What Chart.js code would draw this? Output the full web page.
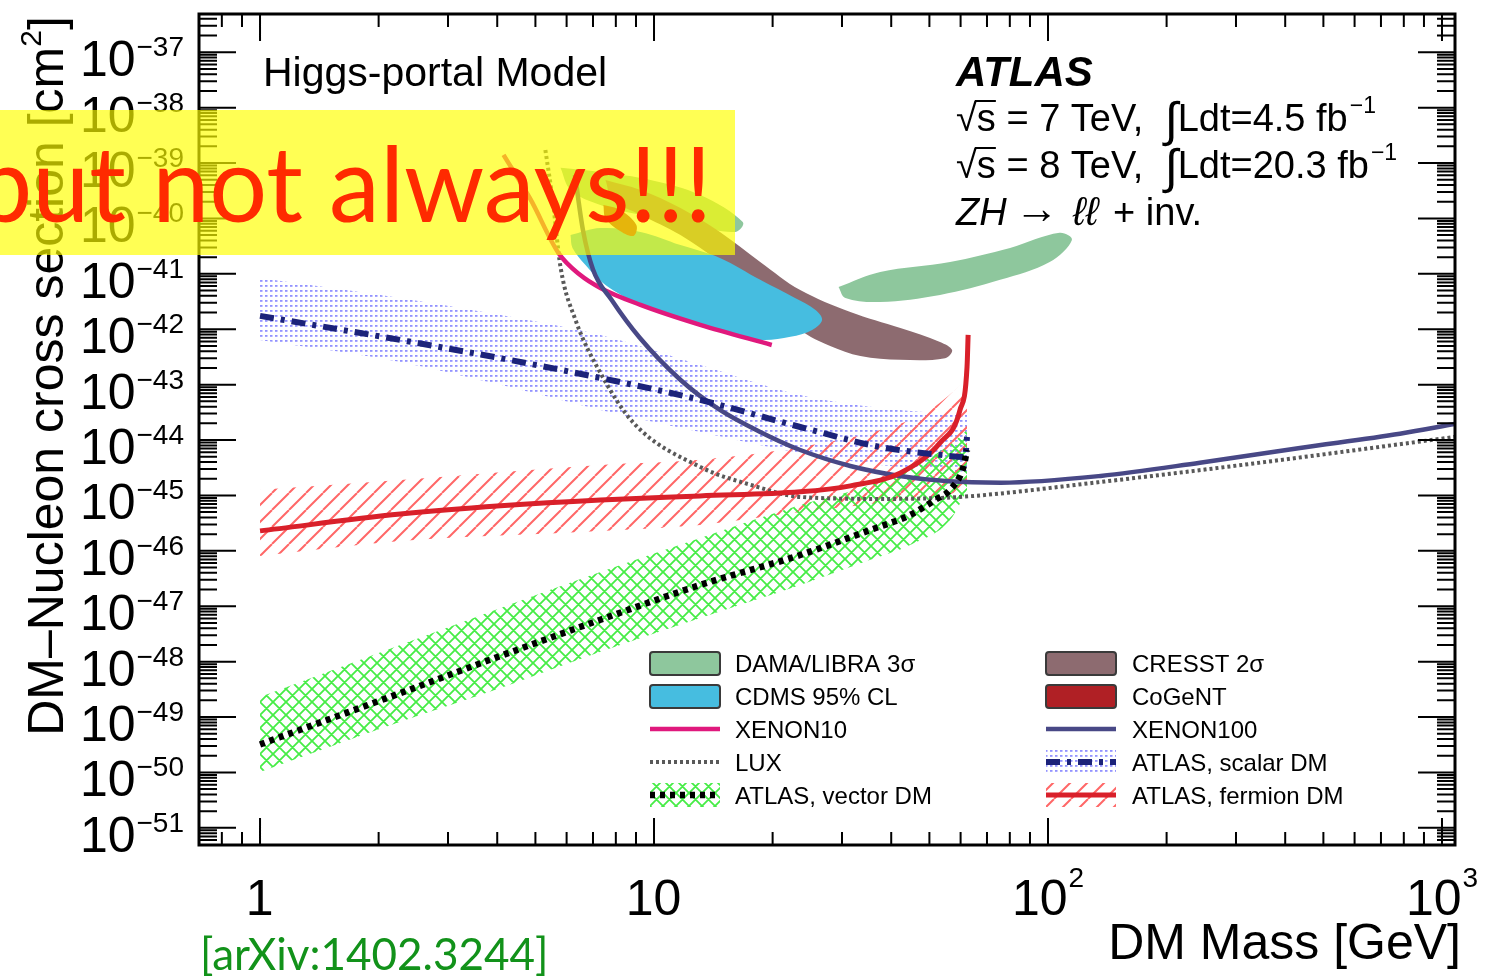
<!DOCTYPE html>
<html>
<head>
<meta charset="utf-8">
<script src="https://cdn.jsdelivr.net/npm/chart.js@4.4.1/dist/chart.umd.min.js"></script>
<style>
  html, body { margin: 0; padding: 0; background: #fff; overflow: hidden; }
  canvas { display: block; }
</style>
</head>
<body>
<canvas id="c" width="1509" height="977"></canvas>
<script>
// ---- Data: DM mass [GeV] vs DM-nucleon cross section [cm^2] ----

// ATLAS, vector DM (limit and its uncertainty band)
const vectorMass = [1.0, 2.27, 4.08, 7.31, 13.1, 23.5, 35.4, 44.7, 51.7, 56.4, 60.9, 62.3];
const vectorXsec = [3.2e-50, 2.7e-49, 1.27e-48, 5.7e-48, 2.42e-47, 8.4e-47, 2.38e-46, 4.45e-46, 8.3e-46, 1.26e-45, 3.13e-45, 6.6e-45];
const vectorBandMass = [1.0, 2.27, 4.08, 7.31, 13.1, 23.5, 35.4, 44.7, 56.4, 62.3];
const vectorBandHigh = [2.31e-49, 2.0e-48, 9.3e-48, 4.16e-47, 1.71e-46, 6.7e-46, 1.55e-45, 3.13e-45, 8.2e-45, 1.52e-44];
const vectorBandLow  = [1.02e-50, 8.2e-50, 3.35e-49, 1.5e-48, 6.15e-48, 2.42e-47, 6.9e-47, 1.28e-46, 3.6e-46, 1.26e-45];

// ATLAS, scalar DM
const scalarMass = [1.0, 2.27, 4.08, 7.31, 13.1, 23.5, 37.5, 53.2, 61.6, 62.3];
const scalarXsec = [1.74e-42, 6.4e-43, 3.0e-43, 1.32e-43, 5.3e-44, 1.72e-44, 7.5e-45, 5.4e-45, 4.95e-45, 1.14e-44];
const scalarBandMass = [1.0, 2.27, 4.08, 7.31, 13.1, 23.5, 37.5, 62.3];
const scalarBandHigh = [8.4e-42, 3.67e-42, 1.81e-42, 7.9e-43, 2.27e-43, 6.5e-44, 3.8e-44, 2.84e-44];
const scalarBandLow  = [6.4e-43, 2.57e-43, 9.9e-44, 3.5e-44, 1.4e-44, 5.85e-45, 3.56e-45, 2.65e-45];

// ATLAS, fermion DM
const fermionMass = [1.0, 2.27, 4.08, 7.31, 13.1, 23.5, 31.5, 42.2, 53.2, 59.8, 62.3, 62.7];
const fermionXsec = [2.29e-46, 4.6e-46, 6.5e-46, 8.3e-46, 9.8e-46, 1.16e-45, 1.49e-45, 2.55e-45, 8.9e-45, 3.5e-44, 2.09e-43, 7.9e-43];
const fermionBandMass = [1.0, 2.27, 7.31, 13.1, 23.5, 37.5, 50.2, 62.3];
const fermionBandHigh = [1.26e-45, 1.9e-45, 3.56e-45, 4.4e-45, 7.5e-45, 1.52e-44, 3.5e-44, 1.22e-43];
const fermionBandLow  = [8.1e-47, 1.51e-46, 2.29e-46, 2.94e-46, 5.0e-46, 7.3e-46, 9.4e-46, 1.16e-45];

// Direct detection limits
const xenon100Mass = [6.3, 6.6, 7.0, 7.8, 9.2, 11.7, 14.7, 18.6, 23.5, 31.5, 42, 56, 76, 136, 243, 436, 782, 1079];
const xenon100Xsec = [6.1e-40, 6.2e-41, 1.2e-41, 3.4e-42, 7.0e-43, 1.2e-43, 3.5e-44, 1.4e-44, 6.6e-45, 3.4e-45, 2.25e-45, 1.8e-45, 1.7e-45, 2.25e-45, 3.9e-45, 7.2e-45, 1.3e-44, 1.95e-44];
const xenon10Mass = [4.15, 4.86, 5.72, 6.5, 7.31, 9.24, 13.1, 19.9];
const xenon10Xsec = [1.4e-39, 2.2e-40, 2.38e-41, 9.5e-42, 5.56e-42, 2.75e-42, 1.2e-42, 5.2e-43];
const luxMass = [5.3, 5.53, 5.79, 6.32, 7.31, 8.87, 13.1, 17.6, 23.5, 37.5, 59.8, 136, 325, 1079];
const luxXsec = [1.72e-39, 2.16e-40, 1.33e-41, 1.47e-42, 1.63e-43, 2.04e-44, 3.27e-45, 1.55e-45, 9.4e-46, 8.65e-46, 9.4e-46, 1.75e-45, 3.7e-45, 1.14e-44];

// Signal regions (closed contours)
const damaHighMass = [29.4, 37.5, 56.4, 80.1, 107, 115, 101, 75.6, 53.2, 37.5, 30.6, 29.4];
const damaHighXsec = [5.8e-42, 1.08e-41, 1.64e-41, 2.94e-41, 5.5e-41, 4.1e-41, 1.64e-41, 7.8e-42, 4.16e-42, 3.11e-42, 3.67e-42, 5.8e-42];
const damaLowMass = [5.79, 7.31, 9.79, 13.1, 16.8, 16.1, 12.4, 9.24, 7.31, 6.14, 5.79];
const damaLowXsec = [8.2e-40, 6.9e-40, 4.95e-40, 2.65e-40, 8.6e-41, 5.7e-41, 7.6e-41, 1.16e-40, 1.75e-40, 3.27e-40, 8.2e-40];
const cdmsMass = [6.14, 7.31, 9.24, 11.67, 14.7, 18.6, 22.8, 25.7, 26.7, 25.2, 22.2, 18.6, 14.7, 11.67, 9.24, 7.53, 6.7, 6.21, 6.14];
const cdmsXsec = [5.0e-41, 6.7e-41, 5.7e-41, 3.3e-41, 1.94e-41, 7.8e-42, 3.67e-42, 2.23e-42, 1.47e-42, 9.7e-43, 7.3e-43, 6.4e-43, 8.9e-43, 1.47e-42, 2.75e-42, 6.3e-42, 1.45e-41, 2.94e-41, 5.0e-41];
const cresstMass = [7.53, 9.24, 11.67, 14.7, 18.6, 23.5, 31.5, 42.2, 53.2, 57.1, 54.8, 42.2, 33.4, 28.0, 23.5, 18.6, 14.7, 11.67, 9.24, 7.85, 7.53];
const cresstXsec = [4.95e-40, 3.27e-40, 1.55e-40, 5.7e-41, 1.64e-41, 5.1e-42, 2.05e-42, 1.05e-42, 5.9e-43, 4.2e-43, 3.0e-43, 2.8e-43, 3.3e-43, 5.0e-43, 9.7e-43, 4.7e-42, 1.64e-41, 5.0e-41, 1.16e-40, 2.2e-40, 4.95e-40];
const cogentMass = [7.44, 8.22, 9.02, 8.87, 8.12, 7.53, 7.44];
const cogentXsec = [1.75e-40, 1.42e-40, 7.6e-41, 4.83e-41, 6.2e-41, 1.02e-40, 1.75e-40];

// Axis ticks
const xTickValues = [1, 10, 100, 1000];
const xTickLabels = [['1', ''], ['10', ''], ['10', '2'], ['10', '3']];
const yTickExponents = [-51, -50, -49, -48, -47, -46, -45, -44, -43, -42, -41, -40, -39, -38, -37];

// Legend entries (two columns)
const legendLeft = ['DAMA/LIBRA 3σ', 'CDMS 95% CL', 'XENON10', 'LUX', 'ATLAS, vector DM'];
const legendRight = ['CRESST 2σ', 'CoGeNT', 'XENON100', 'ATLAS, scalar DM', 'ATLAS, fermion DM'];

// ---- Styles ----
const FONT = '"Liberation Sans", Arial, Helvetica, sans-serif';
const COL = {
  dama: '#8ec79d', cdms: '#46bde0', cresst: '#8d6b70', cogent: '#b02025',
  xenon10: '#e0197d', xenon100: '#484886', lux: '#595959',
  vector: '#000000', scalar: '#1c237a', fermion: '#d9202a'
};

function makePattern(w, h, paint) {
  const c = document.createElement('canvas');
  c.width = w; c.height = h;
  const g = c.getContext('2d');
  paint(g, w, h);
  return g.createPattern(c, 'repeat');
}
const redHatch = makePattern(17, 17, (g, w, h) => {
  g.strokeStyle = 'rgba(255,95,95,0.95)'; g.lineWidth = 2;
  g.beginPath();
  for (let k = -1; k <= 1; k++) { g.moveTo(k * w, h); g.lineTo(k * w + w, 0); }
  g.stroke();
});
const greenCross = makePattern(13, 13, (g, w, h) => {
  g.strokeStyle = 'rgba(60,235,60,0.95)'; g.lineWidth = 1.8;
  g.beginPath();
  for (let k = -1; k <= 1; k++) {
    g.moveTo(k * w, h); g.lineTo(k * w + w, 0);
    g.moveTo(k * w, 0); g.lineTo(k * w + w, h);
  }
  g.stroke();
});
const blueDots = makePattern(5, 5, (g) => {
  g.fillStyle = 'rgba(110,110,255,0.75)';
  g.fillRect(0, 0, 2.5, 1.8);
});

const pts = (xs, ys) => xs.map((x, i) => ({ x, y: ys[i] }));

function band(label, xs, hi, lo, pattern, order) {
  return [
    { label: label + ' (+1σ)', data: pts(xs, hi), borderWidth: 0, borderColor: 'transparent',
      pointRadius: 0, fill: '+1', backgroundColor: pattern, order, cubicInterpolationMode: 'monotone' },
    { label: label + ' (−1σ)', data: pts(xs, lo), borderWidth: 0, borderColor: 'transparent',
      pointRadius: 0, fill: false, order, cubicInterpolationMode: 'monotone' }
  ];
}
function region(label, xs, ys, color, order) {
  return { label, data: pts(xs, ys), borderWidth: 0, borderColor: 'transparent', pointRadius: 0,
           fill: 'shape', backgroundColor: color, tension: 0.35, order };
}
function curve(label, xs, ys, color, width, dash, order) {
  return { label, data: pts(xs, ys), borderColor: color, borderWidth: width, borderDash: dash,
           pointRadius: 0, fill: false, cubicInterpolationMode: 'monotone', order, borderCapStyle: 'butt' };
}

const datasets = [
  ...band('ATLAS, scalar DM', scalarBandMass, scalarBandHigh, scalarBandLow, blueDots, 100),
  ...band('ATLAS, fermion DM', fermionBandMass, fermionBandHigh, fermionBandLow, redHatch, 90),
  ...band('ATLAS, vector DM', vectorBandMass, vectorBandHigh, vectorBandLow, greenCross, 80),
  region('DAMA/LIBRA 3σ', damaLowMass, damaLowXsec, COL.dama, 75),
  region('DAMA/LIBRA 3σ', damaHighMass, damaHighXsec, COL.dama, 75),
  region('CRESST 2σ', cresstMass, cresstXsec, COL.cresst, 70),
  region('CDMS 95% CL', cdmsMass, cdmsXsec, COL.cdms, 65),
  region('CoGeNT', cogentMass, cogentXsec, COL.cogent, 55),
  curve('LUX', luxMass, luxXsec, COL.lux, 4, [3, 3], 50),
  curve('XENON10', xenon10Mass, xenon10Xsec, COL.xenon10, 4.5, [], 45),
  curve('XENON100', xenon100Mass, xenon100Xsec, COL.xenon100, 4.5, [], 40),
  curve('ATLAS, fermion DM', fermionMass, fermionXsec, COL.fermion, 5, [], 30),
  curve('ATLAS, scalar DM', scalarMass, scalarXsec, COL.scalar, 6, [14, 7, 4, 7], 25),
  curve('ATLAS, vector DM', vectorMass, vectorXsec, COL.vector, 6.5, [5, 5], 20)
];

// ---- Text helpers ----
function runs(ctx, x, y, parts) {
  ctx.textAlign = 'left'; ctx.textBaseline = 'alphabetic';
  for (const p of parts) {
    ctx.font = p.font;
    ctx.fillStyle = p.color || '#000';
    ctx.fillText(p.t, x, y + (p.dy || 0));
    const w = ctx.measureText(p.t).width;
    if (p.overline) {
      ctx.save(); ctx.strokeStyle = '#000'; ctx.lineWidth = 2;
      ctx.beginPath(); ctx.moveTo(x - 2, y + p.overline); ctx.lineTo(x + w, y + p.overline); ctx.stroke();
      ctx.restore();
    }
    x += w + (p.gap || 0);
  }
  return x;
}
function width(ctx, parts) {
  let w = 0;
  for (const p of parts) { ctx.font = p.font; w += ctx.measureText(p.t).width + (p.gap || 0); }
  return w;
}

// ---- Frame, ticks, labels, annotations, legend ----
const decorations = {
  id: 'decorations',
  afterDatasetsDraw(chart) {
    const { ctx, chartArea: a, scales: { x, y } } = chart;
    ctx.save();

    // tick marks on all four sides
    ctx.strokeStyle = '#000'; ctx.lineWidth = 2; ctx.setLineDash([]);
    ctx.beginPath();
    for (let e = -52; e <= -36; e++) {
      for (let m = 1; m <= 9; m++) {
        const p = y.getPixelForValue(m * Math.pow(10, e));
        if (p < a.top + 1 || p > a.bottom - 1) continue;
        const len = m === 1 ? 37 : 18;
        ctx.moveTo(a.left, p); ctx.lineTo(a.left + len, p);
        ctx.moveTo(a.right, p); ctx.lineTo(a.right - len, p);
      }
    }
    for (let e = -1; e <= 3; e++) {
      for (let m = 1; m <= 9; m++) {
        const p = x.getPixelForValue(m * Math.pow(10, e));
        if (p < a.left + 1 || p > a.right - 1) continue;
        const len = m === 1 ? 27 : 13;
        ctx.moveTo(p, a.bottom); ctx.lineTo(p, a.bottom - len);
        ctx.moveTo(p, a.top); ctx.lineTo(p, a.top + len);
      }
    }
    ctx.stroke();
    ctx.lineWidth = 3;
    ctx.strokeRect(a.left, a.top, a.right - a.left, a.bottom - a.top);

    // y tick labels 10^n
    const baseFont = '50px ' + FONT, expFont = '28px ' + FONT;
    for (const e of yTickExponents) {
      const p = y.getPixelForValue(Math.pow(10, e));
      const expStr = '\u2212' + (-e);
      ctx.font = expFont; const ew = ctx.measureText(expStr).width;
      ctx.font = baseFont; const bw = ctx.measureText('10').width;
      const right = 184;
      runs(ctx, right - ew - bw - 1, p + 24, [
        { t: '10', font: baseFont, gap: 1 },
        { t: expStr, font: expFont, dy: -20 }
      ]);
    }
    // x tick labels
    xTickValues.forEach((v, i) => {
      const p = x.getPixelForValue(v);
      const [b, s] = xTickLabels[i];
      const parts = [{ t: b, font: baseFont, gap: 1 }];
      if (s) parts.push({ t: s, font: expFont, dy: -28 });
      const w = width(ctx, parts);
      runs(ctx, p - w / 2, 915, parts);
    });

    // axis titles
    ctx.font = '50px ' + FONT; ctx.fillStyle = '#000'; ctx.textAlign = 'right';
    ctx.fillText('DM Mass [GeV]', 1461, 959);
    ctx.save();
    ctx.translate(63, 376);
    ctx.rotate(-Math.PI / 2);
    const tParts = [
      { t: 'DM\u2013Nucleon cross section [cm', font: '50px ' + FONT },
      { t: '2', font: '30px ' + FONT, dy: -22 },
      { t: ']', font: '50px ' + FONT }
    ];
    runs(ctx, -width(ctx, tParts) / 2, 0, tParts);
    ctx.restore();

    // annotations
    runs(ctx, 263, 86, [{ t: 'Higgs-portal Model', font: '41px ' + FONT }]);
    runs(ctx, 956, 86, [{ t: 'ATLAS', font: 'italic bold 42px ' + FONT }]);
    const f = '38px ' + FONT, fi = 'italic 38px ' + FONT, fs = '23px ' + FONT, fint = '48px ' + FONT;
    [['7', '4.5'], ['8', '20.3']].forEach(([sq, lum], k) => {
      const by = 131 + k * 47;
      runs(ctx, 956, by, [
        { t: '\u221A', font: f },
        { t: 's', font: f, overline: -30 },
        { t: ' = ' + sq + ' TeV,  ', font: f },
        { t: '\u222B', font: fint, dy: 5 },
        { t: 'Ldt=' + lum + ' fb', font: f, gap: 2 },
        { t: '\u22121', font: fs, dy: -18 }
      ]);
    });
    runs(ctx, 956, 225, [
      { t: 'ZH', font: fi, gap: 8 },
      { t: '\u2192', font: '44px ' + FONT, dy: -2, gap: 14 },
      { t: '\u2113\u2113', font: 'italic 40px ' + FONT, gap: 4 },
      { t: ' + inv.', font: f }
    ]);

    // legend
    const rowY = [663, 696, 729, 762, 795];
    const lf = '24px ' + FONT;
    const swatch = (x0, yc, kind) => {
      const w = 70;
      ctx.save();
      ctx.setLineDash([]);
      if (kind.box) {
        ctx.fillStyle = kind.box; ctx.strokeStyle = '#3a3a3a'; ctx.lineWidth = 2;
        ctx.beginPath(); ctx.roundRect(x0, yc - 11, w, 23, 3); ctx.fill(); ctx.stroke();
      }
      if (kind.pattern) {
        ctx.fillStyle = kind.pattern; ctx.fillRect(x0, yc - 12, w, 24);
      }
      if (kind.line) {
        ctx.strokeStyle = kind.line; ctx.lineWidth = kind.lw; ctx.setLineDash(kind.dash || []);
        ctx.beginPath(); ctx.moveTo(x0, yc); ctx.lineTo(x0 + w, yc); ctx.stroke();
      }
      ctx.restore();
    };
    const kinds = {
      'DAMA/LIBRA 3σ': { box: COL.dama },
      'CDMS 95% CL': { box: COL.cdms },
      'XENON10': { line: COL.xenon10, lw: 4.5 },
      'LUX': { line: COL.lux, lw: 4, dash: [3, 3] },
      'ATLAS, vector DM': { pattern: greenCross, line: COL.vector, lw: 6.5, dash: [5, 5] },
      'CRESST 2σ': { box: COL.cresst },
      'CoGeNT': { box: COL.cogent },
      'XENON100': { line: COL.xenon100, lw: 4.5 },
      'ATLAS, scalar DM': { pattern: blueDots, line: COL.scalar, lw: 6, dash: [14, 7, 4, 7] },
      'ATLAS, fermion DM': { pattern: redHatch, line: COL.fermion, lw: 5 }
    };
    [[legendLeft, 650, 735], [legendRight, 1046, 1132]].forEach(([list, sx, tx]) => {
      list.forEach((lab, i) => {
        swatch(sx, rowY[i], kinds[lab]);
        runs(ctx, tx, rowY[i] + 9, [{ t: lab, font: lf }]);
      });
    });
    ctx.restore();
  },
  afterDraw(chart) {
    const { ctx } = chart;
    ctx.save();
    // highlighted caption strip
    ctx.fillStyle = 'rgba(255,255,0,0.67)';
    ctx.fillRect(0, 110, 735, 145);
    const cap = 'but not always!!!';
    ctx.font = '104px Lato, "Open Sans", sans-serif';
    const cw = ctx.measureText(cap).width;
    const sx = 737 / cw;
    ctx.translate(-25, 222);
    ctx.scale(sx, 1);
    ctx.fillStyle = '#ff2a00';
    ctx.textAlign = 'left'; ctx.textBaseline = 'alphabetic';
    ctx.fillText(cap, 0, 0);
    ctx.restore();
    // reference tag
    ctx.save();
    ctx.font = '44px Lato, "Open Sans", sans-serif';
    ctx.fillStyle = '#12921a';
    ctx.textBaseline = 'alphabetic';
    ctx.fillText('[arXiv:1402.3244]', 200, 970);
    ctx.restore();
  }
};

new Chart(document.getElementById('c'), {
  type: 'line',
  data: { datasets },
  options: {
    responsive: false,
    animation: false,
    events: [],
    layout: { padding: { left: 199, top: 14, right: 54, bottom: 132 } },
    scales: {
      x: { type: 'logarithmic', min: 0.703, max: 1079, display: false },
      y: { type: 'logarithmic', min: Math.pow(10, -51.31), max: Math.pow(10, -36.31), display: false }
    },
    plugins: { legend: { display: false }, tooltip: { enabled: false } }
  },
  plugins: [decorations]
});
</script>
</body>
</html>
